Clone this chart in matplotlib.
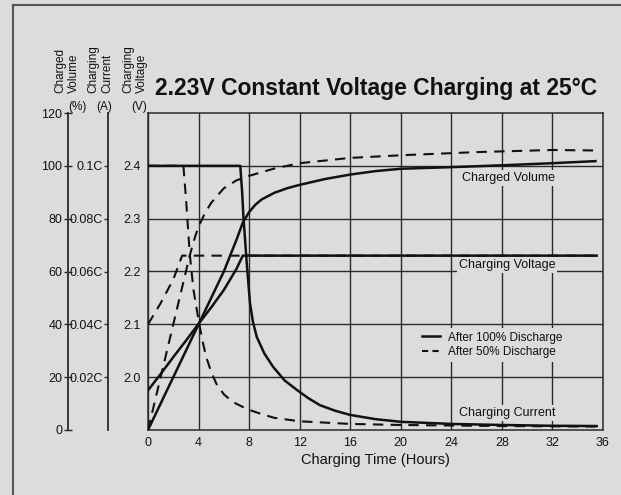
import matplotlib
matplotlib.use("Agg")
import matplotlib.pyplot as plt
from matplotlib.lines import Line2D

plt.rcParams['font.family'] = ['Liberation Sans', 'DejaVu Sans']

# ---------------- data ----------------
x_ticks = [0, 4, 8, 12, 16, 20, 24, 28, 32, 36]
volume_ticks = [0, 20, 40, 60, 80, 100, 120]
current_ticks = [0.02, 0.04, 0.06, 0.08, 0.1]
current_labels = ["0.02C", "0.04C", "0.06C", "0.08C", "0.1C"]
voltage_ticks = [2.0, 2.1, 2.2, 2.3, 2.4]
voltage_labels = ["2.0", "2.1", "2.2", "2.3", "2.4"]

# After 100% discharge (solid)
vol100_t = [0, 2, 4, 5, 6, 6.5, 7, 7.5, 8, 8.5, 9, 10, 11, 12, 14, 16, 18, 20, 24, 28, 32, 35.5]
vol100_v = [0, 20, 40, 50, 60, 66, 72, 78.5, 82.5, 85.3, 87.3, 89.8, 91.5, 92.8, 95, 96.7,
            98, 98.9, 99.5, 100.2, 101, 101.8]
cur100_t = [0, 7.3, 7.45, 7.55, 7.68, 7.8, 7.95, 8.07, 8.3, 8.6, 9.2, 9.9, 10.8, 11.8, 12.7,
            13.6, 14.8, 16, 18, 20, 24, 28, 32, 35.5]
cur100_c = [0.1, 0.1, 0.09, 0.0806, 0.072, 0.064, 0.055, 0.048, 0.041, 0.0353, 0.029, 0.0239,
            0.0188, 0.0151, 0.012, 0.0094, 0.0073, 0.0057, 0.0041, 0.0031, 0.0023, 0.0019,
            0.0016, 0.0015]
volt100_t = [0, 1, 2, 3, 4, 5, 6, 7, 7.5, 35.5]
volt100_v = [1.975, 2.006, 2.038, 2.069, 2.101, 2.132, 2.165, 2.205, 2.23, 2.23]

# After 50% discharge (dashed)
vol50_t = [0, 1, 2, 3, 3.25, 3.5, 3.75, 4, 4.5, 5, 6, 7, 8, 10, 12, 16, 20, 26, 32, 35.5]
vol50_v = [0, 20, 40, 60, 65, 69.5, 73.5, 77, 82, 86, 91.5, 94.5, 96.2, 99, 101, 103, 104,
           105.2, 106, 105.8]
cur50_t = [0, 2.8, 3.0, 3.3, 3.6, 4, 4.3, 4.6, 5.0, 5.4, 6, 6.75, 7.9, 9, 10, 12, 16, 20, 28, 35.5]
cur50_c = [0.1, 0.1, 0.088, 0.0668, 0.053, 0.0416, 0.034, 0.0277, 0.022, 0.0176, 0.0135,
           0.0105, 0.0078, 0.006, 0.0046, 0.0033, 0.0023, 0.0019, 0.0015, 0.0013]
volt50_t = [0, 1, 2, 2.7, 35.5]
volt50_v = [2.10, 2.14, 2.185, 2.23, 2.23]

# ---------------- style ----------------
BG = '#dcdcdc'
INK = '#111111'
GRID = '#2a2a2a'

fig = plt.figure(figsize=(6.21, 4.95), dpi=100, facecolor=BG)
W, H = 621.0, 495.0
left, right, top, bottom = 148, 603, 113, 430
ax = fig.add_axes([left / W, 1 - bottom / H, (right - left) / W, (bottom - top) / H])
ax.set_facecolor(BG)

# voltage axis (main, carries the grid)
ax.set_xlim(0, 36)
ax.set_ylim(1.9, 2.5)
ax.set_xticks(x_ticks)
ax.set_xticklabels([str(v) for v in x_ticks], fontsize=9, color=INK)
ax.set_yticks(voltage_ticks)
ax.set_yticklabels(voltage_labels, fontsize=9, color=INK)
ax.tick_params(axis='both', length=0, pad=5)
ax.grid(True, color=GRID, lw=1.0)
for s in ax.spines.values():
    s.set_color(GRID)
    s.set_linewidth(1.1)
ax.set_xlabel("Charging Time (Hours)", fontsize=10.5, color=INK, labelpad=3)

# volume axis
axv = ax.twinx()
axv.set_ylim(0, 120)
axv.yaxis.set_ticks_position('left')
axv.yaxis.set_label_position('left')
axv.spines['left'].set_position(('axes', (68 - left) / (right - left)))
for k in ['right', 'top', 'bottom']:
    axv.spines[k].set_visible(False)
axv.spines['left'].set_color(GRID)
axv.spines['left'].set_linewidth(1.3)
axv.set_yticks(volume_ticks)
axv.set_yticklabels([str(v) for v in volume_ticks], fontsize=9, color=INK)
axv.tick_params(axis='y', direction='inout', length=6, width=1, pad=1, color=GRID)

# current axis
axc = ax.twinx()
axc.set_ylim(0, 0.12)
axc.yaxis.set_ticks_position('left')
axc.yaxis.set_label_position('left')
axc.spines['left'].set_position(('axes', (108 - left) / (right - left)))
for k in ['right', 'top', 'bottom']:
    axc.spines[k].set_visible(False)
axc.spines['left'].set_color(GRID)
axc.spines['left'].set_linewidth(1.3)
axc.set_yticks(current_ticks)
axc.set_yticklabels(current_labels, fontsize=9, color=INK)
axc.tick_params(axis='y', direction='out', length=3, width=1, pad=1, color=GRID)

# voltage curves
axt = ax.twinx()
axt.set_ylim(1.9, 2.5)
axt.set_yticks([])
for s in axt.spines.values():
    s.set_visible(False)

LW_S, LW_D = 1.8, 1.5
DASH = (0, (5, 3.5))
axv.plot(vol100_t, vol100_v, color=INK, lw=LW_S, solid_capstyle='butt')
axv.plot(vol50_t, vol50_v, color=INK, lw=LW_D, linestyle=DASH)
axc.plot(cur100_t, cur100_c, color=INK, lw=LW_S)
axc.plot(cur50_t, cur50_c, color=INK, lw=LW_D, linestyle=DASH)
axt.plot(volt50_t, volt50_v, color=INK, lw=LW_D, linestyle=DASH)
axt.plot(volt100_t, volt100_v, color=INK, lw=LW_S)
for a in (axv, axc, axt):
    a.set_xlim(0, 36)

# curve labels
bb = dict(facecolor=BG, edgecolor='none', pad=1.5)
ax.text(28.5, 2.377, "Charged Volume", fontsize=9, ha='center', va='center', color=INK, bbox=bb, zorder=3)
ax.text(28.4, 2.213, "Charging Voltage", fontsize=9, ha='center', va='center', color=INK, bbox=bb, zorder=3)
ax.text(28.4, 1.932, "Charging Current", fontsize=9, ha='center', va='center', color=INK, bbox=bb, zorder=3)

# legend
handles = [Line2D([], [], color=INK, lw=LW_S), Line2D([], [], color=INK, lw=LW_D, linestyle=(0, (3, 2)))]
leg = axt.legend(handles, ["After 100% Discharge", "After 50% Discharge"],
                 loc='upper left', bbox_to_anchor=((418 - left) / (right - left), (430 - 328) / (bottom - top)),
                 borderaxespad=0, fontsize=8.5, frameon=True, facecolor=BG, edgecolor='none',
                 framealpha=1, fancybox=False, handlelength=1.6, handletextpad=0.6,
                 labelspacing=0.25, borderpad=0.3)
for t in leg.get_texts():
    t.set_color(INK)

# title
fig.text(155 / W, 1 - 88 / H, "2.23V Constant Voltage Charging at 25°C", fontsize=16.5,
         fontweight='bold', ha='left', va='center', color=INK)

# axis headers
for xc, txt in [(67, "Charged\nVolume"), (100, "Charging\nCurrent"), (135, "Charging\nVoltage")]:
    fig.text(xc / W, 1 - 93 / H, txt, rotation=90, fontsize=8.5, ha='center', va='bottom',
             multialignment='left', linespacing=1.2, color=INK)
for xc, txt in [(77, "(%)"), (104, "(A)"), (139, "(V)")]:
    fig.text(xc / W, 1 - 107 / H, txt, fontsize=8.5, ha='center', va='center', color=INK)

# outer frame
fig.add_artist(Line2D([13 / W, 13 / W], [0, 1 - 5 / H], transform=fig.transFigure, color='#555555', lw=1.5))
fig.add_artist(Line2D([13 / W, 1], [1 - 5 / H, 1 - 5 / H], transform=fig.transFigure, color='#555555', lw=1.5))

fig.savefig("out.png", dpi=100, facecolor=BG)
